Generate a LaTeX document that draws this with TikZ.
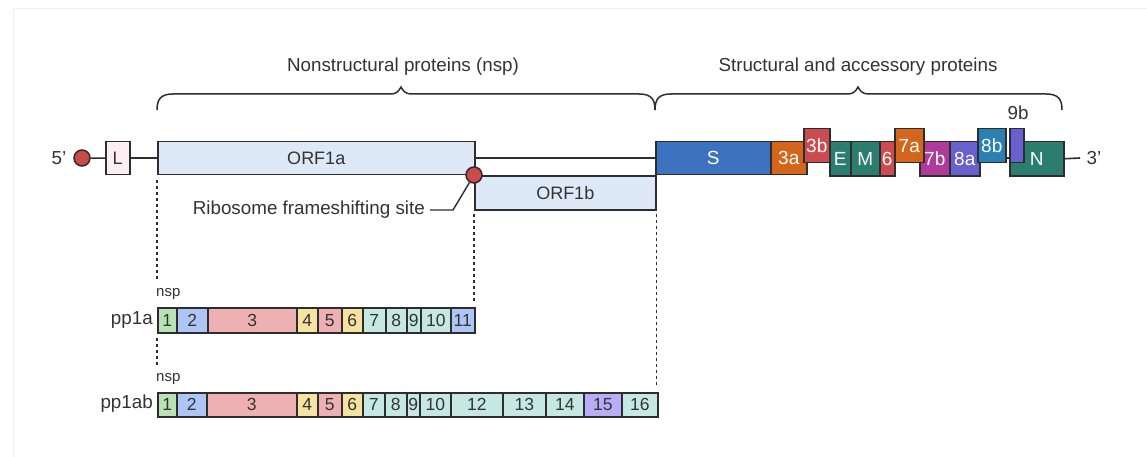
\documentclass[tikz,border=0pt]{standalone}
\usepackage{fontspec}
\setmainfont{Liberation Sans}
\definecolor{boxline}{HTML}{2D2D2D}
\definecolor{txt}{HTML}{333333}
\definecolor{frame}{HTML}{F0F0F0}
\definecolor{cL}{HTML}{FDEEF3}
\definecolor{cORF}{HTML}{DDE9F7}
\definecolor{cS}{HTML}{3D72C0}
\definecolor{cOr}{HTML}{D4661C}
\definecolor{cRd}{HTML}{CC4B4F}
\definecolor{cTe}{HTML}{2A7D6F}
\definecolor{cMa}{HTML}{B03A9A}
\definecolor{cPu}{HTML}{6A5FCF}
\definecolor{cSb}{HTML}{2A80B0}
\definecolor{cDot}{HTML}{CC4A4A}
\definecolor{nG}{HTML}{B9E3B4}
\definecolor{nB}{HTML}{AEC6F5}
\definecolor{nP}{HTML}{EEB0B3}
\definecolor{nY}{HTML}{F6E3A1}
\definecolor{nT}{HTML}{C5E9E2}
\definecolor{nV}{HTML}{B9ADF7}
\tikzset{
  gbox/.style={draw=boxline, line width=1.5pt, rectangle, inner sep=0pt, anchor=north west, text=white, font=\fontsize{19}{21}\selectfont},
  lbox/.style={gbox, text=txt, font=\fontsize{18}{20}\selectfont},
  nbox/.style={draw=boxline, line width=1.5pt, rectangle, inner sep=0pt, anchor=north west, text=txt, font=\fontsize{17.5}{19}\selectfont},
  lbl/.style={text=txt, font=\fontsize{18.8}{21}\selectfont, inner sep=0pt},
  small/.style={text=txt, font=\fontsize{15}{17}\selectfont, inner sep=0pt},
  dots/.style={draw=boxline, line width=1.5pt, dash pattern=on 3pt off 3pt},
  wire/.style={draw=boxline, line width=1.6pt},
  brace/.style={draw=boxline, line width=1.5pt},
  cap5/.style={circle, draw=boxline, line width=1.5pt, fill=cDot, minimum size=16pt, inner sep=0pt},
}
% style, x1, y1, x2, y2, name, fill, text
\newcommand\bx[8]{\node[#1, fill=#7, minimum width=#4-#2, minimum height=#5-#3] (#6) at (#2,#3) {#8};}
\begin{document}
\begin{tikzpicture}[x=1pt, y=-1pt]
\useasboundingbox (0,0) rectangle (1147,457);
\fill[white] (0,0) rectangle (1147,457);
\draw[frame, line width=1pt] (13,457) -- (13,9) -- (1147,9);

% top labels and braces
\node[lbl] (lnsp) at (403,67) {Nonstructural proteins (nsp)};
\node[lbl] (lsap) at (858,67) {Structural and accessory proteins};
\draw[brace] (157,110) .. controls (157,99) and (161,94) .. (173,94) -- (391,94)
  .. controls (396,94) and (399,91) .. (401,87) .. controls (403,91) and (406,94) .. (411,94)
  -- (639,94) .. controls (651,94) and (655,99) .. (655,110);
\draw[brace] (655,110) .. controls (655,99) and (659,94) .. (671,94) -- (848,94)
  .. controls (853,94) and (856,91) .. (858,87) .. controls (860,91) and (863,94) .. (868,94)
  -- (1046,94) .. controls (1058,94) and (1062,99) .. (1062,110);

% genome
\node[lbl] (p5) at (59,158) {5'};
\node[cap5] (c5) at (82,158) {};
\bx{lbox}{105}{141}{129}{174}{L}{cL}{L}
\bx{lbox}{157}{141}{474}{174}{ORF1a}{cORF}{ORF1a}
\bx{lbox}{474}{175}{655}{209}{ORF1b}{cORF}{ORF1b}
\bx{gbox}{655}{141}{770}{174}{S}{cS}{S}
\bx{gbox}{770}{141}{806}{174}{g3a}{cOr}{3a}
\bx{gbox}{829}{141}{850}{175}{E}{cTe}{E}
\bx{gbox}{850}{141}{879}{175}{M}{cTe}{M}
\bx{gbox}{879}{141}{894}{175}{g6}{cRd}{6}
\bx{gbox}{919}{141}{949}{175}{g7b}{cMa}{7b}
\bx{gbox}{949}{141}{979}{175}{g8a}{cPu}{8a}
\bx{gbox}{1009}{141}{1063}{175}{N}{cTe}{N}
\bx{gbox}{803}{128}{829}{162}{g3b}{cRd}{3b}
\bx{gbox}{894}{128}{923}{162}{g7a}{cOr}{7a}
\bx{gbox}{977}{128}{1005}{162}{g8b}{cSb}{8b}
\bx{gbox}{1009}{128}{1023}{162}{g9b}{cPu}{}
\node[lbl] (l9b) at (1018,113) {9b};
\coordinate (e3) at (1080,158);
\node[lbl] (p3) at (1094,158) {3'};

\draw[wire] (c5) -- (L);
\draw[wire] (L) -- (ORF1a);
\draw[wire] (ORF1a.east) -- (S.west);
\draw[wire] (g8b.east |- S.west) -- (g9b.west |- S.west);
\draw[wire] (N.east) -- (e3);

% frameshift
\node[cap5] (fs) at (474,175) {};
\node[lbl, anchor=east] (rfs) at (425,210) {Ribosome frameshifting site};
\coordinate (k) at (453,210);
\draw[wire, line width=1.4pt] ([xshift=5pt]rfs.east) -- (k) -- (fs);

% pp1a
\node[small, anchor=west] (nspA) at (156,294) {nsp};
\node[lbl, anchor=east] (pp1a) at (153,320) {pp1a};
\bx{nbox}{157}{307}{176}{332}{a1}{nG}{1}
\bx{nbox}{176}{307}{207}{332}{a2}{nB}{2}
\bx{nbox}{207}{307}{296}{332}{a3}{nP}{3}
\bx{nbox}{296}{307}{317}{332}{a4}{nY}{4}
\bx{nbox}{317}{307}{341}{332}{a5}{nP}{5}
\bx{nbox}{341}{307}{362}{332}{a6}{nY}{6}
\bx{nbox}{362}{307}{385}{332}{a7}{nT}{7}
\bx{nbox}{385}{307}{406}{332}{a8}{nT}{8}
\bx{nbox}{406}{307}{420}{332}{a9}{nT}{9}
\bx{nbox}{420}{307}{450}{332}{a10}{nT}{10}
\bx{nbox}{450}{307}{474}{332}{a11}{nB}{11}

% pp1ab
\node[small, anchor=west] (nspB) at (156,379) {nsp};
\node[lbl, anchor=east] (pp1ab) at (153,404) {pp1ab};
\bx{nbox}{157}{392}{176}{416}{b1}{nG}{1}
\bx{nbox}{176}{392}{206}{416}{b2}{nB}{2}
\bx{nbox}{206}{392}{296}{416}{b3}{nP}{3}
\bx{nbox}{296}{392}{317}{416}{b4}{nY}{4}
\bx{nbox}{317}{392}{341}{416}{b5}{nP}{5}
\bx{nbox}{341}{392}{362}{416}{b6}{nY}{6}
\bx{nbox}{362}{392}{384}{416}{b7}{nT}{7}
\bx{nbox}{384}{392}{406}{416}{b8}{nT}{8}
\bx{nbox}{406}{392}{419}{416}{b9}{nT}{9}
\bx{nbox}{419}{392}{450}{416}{b10}{nT}{10}
\bx{nbox}{450}{392}{502}{416}{b12}{nT}{12}
\bx{nbox}{502}{392}{545}{416}{b13}{nT}{13}
\bx{nbox}{545}{392}{583}{416}{b14}{nT}{14}
\bx{nbox}{583}{392}{621}{416}{b15}{nV}{15}
\bx{nbox}{621}{392}{657}{416}{b16}{nT}{16}

% dotted guides
\draw[dots] ([yshift=-4pt]ORF1a.south west) -- ([yshift=7pt]nspA.north west -| ORF1a.south west);
\draw[dots] ([yshift=-4pt]a1.south west) -- ([yshift=6pt]nspB.north west -| a1.south west);
\draw[dots] ([yshift=-3pt]ORF1b.south west) -- ([yshift=6pt]a11.north east -| ORF1b.south west);
\draw[dots] ([yshift=-3pt]ORF1b.south east) -- ([yshift=6pt]b16.north east -| ORF1b.south east);
\end{tikzpicture}
\end{document}
